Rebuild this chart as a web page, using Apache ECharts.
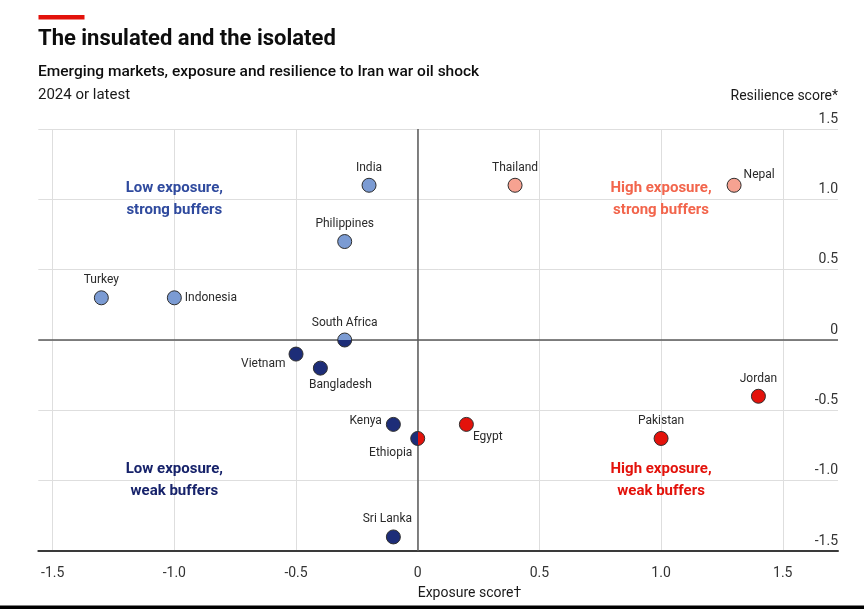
<!DOCTYPE html>
<html>
<head>
<meta charset="utf-8">
<script src="https://cdn.jsdelivr.net/npm/echarts@6/dist/echarts.min.js"></script>
<style>
html,body{margin:0;padding:0;background:#fff;}
#chart{width:864px;height:609px;}
</style>
</head>
<body>
<div id="chart"></div>
<script>
// ---- data ----
const countries  = ['India','Thailand','Nepal','Philippines','Turkey','Indonesia','South Africa','Vietnam','Bangladesh','Jordan','Kenya','Ethiopia','Egypt','Pakistan','Sri Lanka'];
const exposure   = [-0.2, 0.4, 1.3, -0.3, -1.3, -1.0, -0.3, -0.5, -0.4, 1.4, -0.1, 0.0, 0.2, 1.0, -0.1];
const resilience = [1.1, 1.1, 1.1, 0.7, 0.3, 0.3, 0.0, -0.1, -0.2, -0.4, -0.6, -0.7, -0.6, -0.7, -1.4];
const xTicks = [-1.5, -1.0, -0.5, 0, 0.5, 1.0, 1.5];
const yTicks = [-1.5, -1.0, -0.5, 0, 0.5, 1.0, 1.5];
const quadrantText = ['Low exposure,\nstrong buffers','High exposure,\nstrong buffers','Low exposure,\nweak buffers','High exposure,\nweak buffers'];
const quadrantX = [-1.0, 1.0, -1.0, 1.0];
const quadrantY = [1.0, 1.0, -1.0, -1.0];

// ---- styles ----
const FONT = 'Roboto';
const C_LS = '#7b9bd3', C_HS = '#f6a291', C_LW = '#1d2d78', C_HW = '#e3120b';
const Q_COLORS = ['#2f4a9e', '#f2654c', '#16226a', '#e3120b'];

// label placement per country (style only)
const labelPlace = {
  'India': {position:'top', distance:4},
  'Thailand': {position:'top', distance:4},
  'Nepal': {position:'right', distance:2, offset:[0,-10]},
  'Philippines': {position:'top', distance:4},
  'Turkey': {position:'top', distance:4},
  'Indonesia': {position:'right', distance:3},
  'South Africa': {position:'top', distance:4},
  'Vietnam': {position:'left', distance:3, offset:[0,10]},
  'Bangladesh': {position:'bottom', distance:3, offset:[20,0]},
  'Jordan': {position:'top', distance:4},
  'Kenya': {position:'left', distance:4, offset:[0,-3]},
  'Ethiopia': {position:'bottom', distance:1, offset:[-27,0]},
  'Egypt': {position:'right', distance:2, offset:[-3,13]},
  'Pakistan': {position:'top', distance:4},
  'Sri Lanka': {position:'top', distance:4, offset:[-6,0]}
};

function split(c1, c2, vertical) {
  return new echarts.graphic.LinearGradient(0, 0, vertical ? 0 : 1, vertical ? 1 : 0, [
    {offset:0, color:c1},{offset:0.5, color:c1},{offset:0.5, color:c2},{offset:1, color:c2}
  ]);
}
function colorFor(x, y) {
  if (y === 0) return x < 0 ? split(C_LS, C_LW, true) : split(C_HS, C_HW, true);
  if (x === 0) return y < 0 ? split(C_LW, C_HW, false) : split(C_LS, C_HS, false);
  if (x < 0) return y > 0 ? C_LS : C_LW;
  return y > 0 ? C_HS : C_HW;
}

const pts = countries.map((name, i) => {
  const p = labelPlace[name] || {position:'top'};
  return {
    name: name,
    value: [exposure[i], resilience[i]],
    itemStyle: {color: colorFor(exposure[i], resilience[i])},
    label: Object.assign({show:true}, p)
  };
});

const notes = quadrantText.map((t, i) => ({
  value: [quadrantX[i], quadrantY[i]],
  label: {show:true, formatter:t, color:Q_COLORS[i]}
}));

const fmt = v => (v === 0 ? '0' : v.toFixed(1));

const chart = echarts.init(document.getElementById('chart'), null, {renderer:'canvas'});
chart.setOption({
  backgroundColor:'#fff',
  animation:false,
  textStyle:{fontFamily:FONT},
  grid:{left:38.3, right:26, top:129, bottom:58, containLabel:false, outerBoundsMode:'none'},
  xAxis:{
    type:'value', min:-1.559, max:1.727,
    axisLine:{show:true, onZero:false, lineStyle:{color:'#3a3a3a', width:2}},
    axisTick:{show:false, customValues:xTicks},
    axisLabel:{customValues:xTicks, formatter:fmt, color:'#333', fontSize:14, margin:15, fontFamily:FONT},
    splitLine:{show:true, lineStyle:{color:'#dedede', width:1}}
  },
  yAxis:{
    type:'value', min:-1.5, max:1.5, interval:0.5, position:'right',
    axisLine:{show:false}, axisTick:{show:false},
    axisLabel:{inside:true, margin:0, verticalAlign:'bottom', padding:[0,0,3,0], formatter:fmt, color:'#333', fontSize:14, fontFamily:FONT},
    splitLine:{show:true, lineStyle:{color:'#dedede', width:1}}
  },
  graphic:[
    {type:'rect', shape:{x:38.5, y:15, width:46, height:4.5}, style:{fill:'#e3120b'}},
    {type:'text', left:38, top:28, style:{text:'The insulated and the isolated', fontFamily:FONT, fontWeight:'bold', fontSize:22, fill:'#0d0d0d'}},
    {type:'text', left:38, top:64, style:{text:'Emerging markets, exposure and resilience to Iran war oil shock', fontFamily:FONT, fontWeight:500, fontSize:15.5, fill:'#0d0d0d'}},
    {type:'text', left:38, top:88, style:{text:'2024 or latest', fontFamily:FONT, fontSize:15, fill:'#1a1a1a'}},
    {type:'text', right:26, top:89, style:{text:'Resilience score*', fontFamily:FONT, fontSize:14, fill:'#1a1a1a', align:'right'}},
    {type:'text', left:417.7, top:586, style:{text:'Exposure score\u2020', fontFamily:FONT, fontSize:14, fill:'#1a1a1a', align:'center'}},
    {type:'rect', shape:{x:0, y:605.5, width:864, height:4}, style:{fill:'#000'}}
  ],
  series:[
    {
      type:'scatter', data:[], z:1, silent:true,
      markLine:{
        silent:true, symbol:'none', animation:false,
        label:{show:false},
        lineStyle:{color:'#5a5a5a', width:1.5, type:'solid'},
        emphasis:{disabled:true},
        data:[{xAxis:0},{yAxis:0}]
      }
    },
    {
      type:'scatter', z:3, silent:true, symbol:'circle', symbolSize:2,
      itemStyle:{color:'rgba(0,0,0,0)', opacity:1},
      label:{show:true, position:'inside', fontFamily:FONT, fontWeight:'bold', fontSize:15, lineHeight:22, align:'center', verticalAlign:'middle', textBorderWidth:0, opacity:1},
      emphasis:{disabled:true},
      data:notes
    },
    {
      type:'scatter', z:5, symbolSize:14,
      itemStyle:{borderColor:'#2f2f2f', borderWidth:1, opacity:1},
      label:{show:true, formatter:'{b}', color:'#2a2a2a', fontSize:12, fontFamily:FONT},
      emphasis:{disabled:true},
      data:pts
    }
  ]
});
</script>
</body>
</html>
